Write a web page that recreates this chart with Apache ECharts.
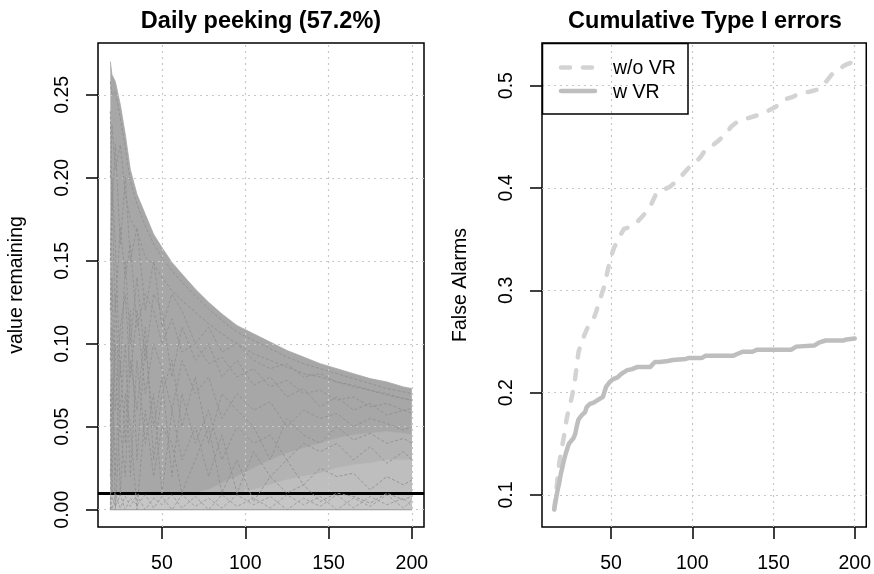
<!DOCTYPE html>
<html><head><meta charset="utf-8">
<script src="https://cdn.jsdelivr.net/npm/echarts@6/dist/echarts.min.js"></script>
<style>html,body{margin:0;padding:0;background:#fff}#c{width:874px;height:574px}</style>
</head><body><div id="c"></div>
<script>
// ---------- Left panel: Daily peeking ----------
const leftDays      = [19,20,22,25,28,31,35,40,45,50,56,62,70,78,86,95,105,115,125,135,145,155,165,175,185,195,200];
const upperEnvelope = [0.27,0.262,0.258,0.244,0.226,0.205,0.19,0.178,0.166,0.158,0.149,0.142,0.133,0.125,0.118,0.111,0.106,0.101,0.096,0.092,0.088,0.085,0.082,0.079,0.077,0.074,0.073];
const denseFloor    = [0.01,0.01,0.01,0.01,0.01,0.01,0.01,0.01,0.01,0.01,0.01,0.01,0.01,0.012,0.016,0.02,0.025,0.03,0.034,0.037,0.04,0.043,0.045,0.046,0.047,0.046,0.045];
const lightFloor    = [0.01,0.01,0.01,0.01,0.01,0.01,0.01,0.01,0.01,0.01,0.01,0.01,0.01,0.01,0.01,0.01,0.012,0.015,0.018,0.02,0.022,0.025,0.027,0.028,0.03,0.03,0.03];
const zeroBandTop   = [0.0095,0.0095,0.0095,0.0095,0.0095,0.0095,0.0095,0.0095,0.0095,0.0095,0.0095,0.0095,0.0095,0.0095,0.0095,0.0095,0.0095,0.0095,0.0095,0.0095,0.0095,0.0095,0.0095,0.0095,0.0095,0.0095,0.0095];
const floorValues   = [0,0,0,0,0,0,0,0,0,0,0,0,0,0,0,0,0,0,0,0,0,0,0,0,0,0,0];
const pathA = [0.258,0.25,0.252,0.236,0.218,0.198,0.184,0.171,0.16,0.152,0.144,0.137,0.129,0.121,0.114,0.107,0.102,0.097,0.092,0.088,0.085,0.082,0.079,0.076,0.073,0.071,0.07];
const pathB = [0.2,0.232,0.205,0.22,0.19,0.175,0.168,0.152,0.148,0.14,0.132,0.126,0.119,0.112,0.106,0.1,0.094,0.09,0.086,0.082,0.08,0.077,0.074,0.072,0.069,0.067,0.066];
const pathC = [0.15,0.19,0.12,0.17,0.14,0.16,0.11,0.13,0.12,0.1,0.115,0.095,0.1,0.088,0.092,0.08,0.085,0.074,0.078,0.07,0.072,0.066,0.068,0.062,0.064,0.06,0.061];
const pathD = [0.09,0.14,0.06,0.11,0.13,0.08,0.12,0.07,0.1,0.085,0.06,0.09,0.07,0.08,0.055,0.07,0.06,0.065,0.05,0.06,0.055,0.058,0.05,0.055,0.052,0.048,0.05];
const pathE = [0.05,0.11,0.02,0.09,0.04,0.12,0.03,0.1,0.05,0.08,0.02,0.07,0.04,0.06,0.03,0.05,0.04,0.045,0.03,0.04,0.035,0.04,0.03,0.038,0.028,0.035,0.03];
const pathF = [0.02,0.08,0,0.06,0.1,0.02,0.09,0.04,0.07,0.01,0.06,0.03,0.05,0.02,0.045,0.01,0.035,0.02,0.03,0.015,0.025,0.02,0.022,0.012,0.02,0.015,0.018];
const pathG = [0,0.05,0.1,0.01,0.07,0.05,0,0.06,0.02,0.05,0.04,0.01,0.03,0.05,0.01,0.03,0.005,0.02,0.01,0.015,0.005,0.01,0.008,0.004,0.01,0.006,0.008];
const pathH = [0.24,0.18,0.22,0.16,0.2,0.15,0.17,0.12,0.15,0.11,0.13,0.12,0.1,0.11,0.095,0.1,0.09,0.085,0.088,0.08,0.082,0.077,0.075,0.072,0.07,0.067,0.066];
const pathI = [0.12,0.2,0.16,0.08,0.15,0.1,0.14,0.09,0.13,0.12,0.08,0.11,0.09,0.1,0.08,0.09,0.075,0.08,0.068,0.073,0.062,0.068,0.06,0.064,0.057,0.06,0.058];
const pathJ = [0.07,0.01,0.13,0.05,0.02,0.09,0.06,0.11,0.03,0.07,0.09,0.05,0.08,0.04,0.07,0.06,0.05,0.03,0.055,0.045,0.04,0.05,0.042,0.046,0.04,0.043,0.04];
const zeroPath1 = [0,0.008,0.002,0.009,0,0.007,0.003,0.009,0.001,0.008,0,0.009,0.002,0.007,0.001,0.009,0.003,0.008,0,0.007,0.002,0.009,0.001,0.008,0.003,0.007,0.002];
const zeroPath2 = [0.005,0,0.009,0.001,0.008,0.002,0.009,0,0.007,0.003,0.009,0.001,0.008,0,0.009,0.002,0.007,0.001,0.009,0.003,0.008,0,0.007,0.002,0.009,0.001,0.006];
const threshold = 0.01;

// ---------- Right panel: Cumulative Type I errors ----------
const noVRDays = [15,16,17,18,19,20,21,22,23,24,25,26,27,28,29,30,32,34,36,38,40,42,44,46,48,50,52,55,58,62,65,68,72,75,78,82,86,90,94,98,102,105,108,112,116,120,124,128,132,136,140,145,150,154,158,162,167,172,177,180,183,186,190,194,197,200];
const noVRRate = [0.086,0.1,0.115,0.13,0.14,0.149,0.157,0.168,0.177,0.184,0.19,0.197,0.205,0.215,0.228,0.24,0.25,0.258,0.265,0.27,0.275,0.285,0.295,0.305,0.32,0.333,0.342,0.352,0.36,0.362,0.365,0.37,0.377,0.385,0.395,0.398,0.401,0.406,0.413,0.42,0.425,0.43,0.437,0.441,0.446,0.452,0.46,0.465,0.467,0.469,0.471,0.474,0.478,0.482,0.487,0.489,0.493,0.494,0.496,0.5,0.505,0.511,0.516,0.52,0.522,0.523];
const vrDays = [15,16,17,18,19,20,21,22,23,24,25,26,27,28,29,30,32,34,35,37,39,41,43,45,46,47,49,51,54,56,58,60,63,66,70,74,77,80,85,88,96,98,106,108,125,128,131,137,140,161,164,175,178,182,193,195,200];
const vrRate = [0.086,0.095,0.104,0.111,0.12,0.127,0.134,0.14,0.145,0.15,0.152,0.154,0.156,0.16,0.168,0.174,0.178,0.181,0.186,0.189,0.19,0.192,0.194,0.196,0.201,0.206,0.21,0.213,0.215,0.218,0.22,0.222,0.223,0.225,0.225,0.225,0.23,0.23,0.231,0.232,0.233,0.234,0.234,0.236,0.236,0.238,0.24,0.24,0.242,0.242,0.245,0.246,0.249,0.251,0.251,0.252,0.253];

// ---------- Ticks ----------
const xTicks = [50,100,150,200];
const leftYTicks = [0,0.05,0.1,0.15,0.2,0.25];
const rightYTicks = [0.1,0.2,0.3,0.4,0.5];

const FONT = '"Liberation Sans", Arial, Helvetica, sans-serif';
const zip = (xs, ys) => xs.map((x, i) => [x, ys[i]]);
const chart = echarts.init(document.getElementById('c'), null, {renderer: 'canvas'});

function xAxisCfg(gi, min, max) {
  return {
    gridIndex: gi, type: 'value', min: min, max: max,
    axisLine: {show: false, onZero: false},
    splitLine: {show: false},
    axisTick: {show: true, customValues: xTicks, length: 12, lineStyle: {color: '#000', width: 1.5}},
    axisLabel: {customValues: xTicks, fontSize: 19.5, color: '#000', margin: 27, fontFamily: FONT}
  };
}
function yAxisCfg(gi, min, max, ticks, digits, name) {
  return {
    gridIndex: gi, type: 'value', min: min, max: max,
    name: name, nameLocation: 'middle', nameRotate: 90, nameGap: 71,
    nameTextStyle: {fontSize: 19.5, color: '#000', fontFamily: FONT},
    axisLine: {show: false, onZero: false},
    splitLine: {show: false},
    axisTick: {show: true, customValues: ticks, length: 12, lineStyle: {color: '#000', width: 1.5}},
    axisLabel: {customValues: ticks, rotate: 90, fontSize: 19.5, color: '#000', margin: 25, fontFamily: FONT,
      formatter: v => Number(v).toFixed(digits)}
  };
}
const gridLineStyle = {type: [2, 4], color: '#c8c8c8', width: 1.2};
function gridSeries(xi, yTicks) {
  return {
    type: 'line', xAxisIndex: xi, yAxisIndex: xi, data: [], z: 1, silent: true,
    markLine: {silent: true, symbol: 'none', label: {show: false}, lineStyle: gridLineStyle, animation: false,
      data: xTicks.map(v => ({xAxis: v})).concat(yTicks.map(v => ({yAxis: v})))}
  };
}
function areaSeries(vals, color, z) {
  return {type: 'line', xAxisIndex: 0, yAxisIndex: 0, data: zip(leftDays, vals), showSymbol: false, symbol: 'none',
    lineStyle: {width: 0.8, color: color}, areaStyle: {color: color, opacity: 1}, z: z, silent: true, animation: false};
}
function pathSeries(vals, color, z) {
  return {type: 'line', xAxisIndex: 0, yAxisIndex: 0, data: zip(leftDays, vals), showSymbol: false, symbol: 'none',
    lineStyle: {width: 0.9, color: color, type: [3, 2]}, z: z, silent: true, animation: false};
}

const series = [
  gridSeries(0, leftYTicks),
  gridSeries(1, rightYTicks),
  areaSeries(upperEnvelope, '#a7a7a7', 2),
  areaSeries(denseFloor, '#b3b3b3', 3),
  areaSeries(lightFloor, '#bebebe', 3),
  areaSeries(zeroBandTop, '#c6c6c6', 4),
  {type: 'line', xAxisIndex: 0, yAxisIndex: 0, data: zip(leftDays, floorValues), showSymbol: false, symbol: 'none',
    lineStyle: {width: 1.2, color: '#9a9a9a'}, z: 5, silent: true, animation: false}
];
[pathA, pathB, pathC, pathD, pathE, pathF, pathG, pathH, pathI, pathJ].forEach(p => series.push(pathSeries(p, '#909090', 6)));
[zeroPath1, zeroPath2].forEach(p => series.push(pathSeries(p, '#9a9a9a', 6)));
series.push({
  type: 'line', xAxisIndex: 0, yAxisIndex: 0, data: [], z: 10, silent: true,
  markLine: {silent: true, symbol: 'none', label: {show: false}, animation: false,
    lineStyle: {color: '#000', width: 3, type: 'solid'}, data: [{yAxis: threshold}]}
});
series.push({
  name: 'w/o VR', type: 'line', xAxisIndex: 1, yAxisIndex: 1, data: zip(noVRDays, noVRRate),
  showSymbol: false, symbol: 'none', z: 5, animation: false,
  lineStyle: {color: '#d3d3d3', width: 4.5, type: [9, 13], cap: 'round', join: 'round'}
});
series.push({
  name: 'w VR', type: 'line', xAxisIndex: 1, yAxisIndex: 1, data: zip(vrDays, vrRate),
  showSymbol: false, symbol: 'none', z: 6, animation: false,
  lineStyle: {color: '#bebebe', width: 4.5, type: 'solid', cap: 'round', join: 'round'}
});

chart.setOption({
  backgroundColor: '#fff',
  animation: false,
  grid: [
    {left: 98, top: 43, width: 326, height: 486, show: true, borderColor: '#000', borderWidth: 1.5, backgroundColor: 'transparent'},
    {left: 542, top: 43, width: 326, height: 486, show: true, borderColor: '#000', borderWidth: 1.5, backgroundColor: 'transparent'}
  ],
  xAxis: [xAxisCfg(0, 11.6, 207.3), xAxisCfg(1, 7.5, 207.1)],
  yAxis: [yAxisCfg(0, -0.0104, 0.2812, leftYTicks, 2, 'value remaining'),
          yAxisCfg(1, 0.0688, 0.5416, rightYTicks, 1, 'False Alarms')],
  series: series,
  graphic: [
    {type: 'text', x: 261, y: 22, style: {text: 'Daily peeking (57.2%)', align: 'center', verticalAlign: 'middle', font: 'bold 23.5px ' + FONT, fill: '#000'}},
    {type: 'text', x: 705, y: 22, style: {text: 'Cumulative Type I errors', align: 'center', verticalAlign: 'middle', font: 'bold 23.5px ' + FONT, fill: '#000'}},
    {type: 'rect', shape: {x: 542.5, y: 43.5, width: 145.5, height: 70.5}, style: {fill: 'none', stroke: '#000', lineWidth: 1.5}, z: 20},
    {type: 'line', shape: {x1: 561, y1: 67.5, x2: 595, y2: 67.5}, style: {stroke: '#d3d3d3', lineWidth: 4.5, lineDash: [9, 13], lineCap: 'round'}, z: 20},
    {type: 'line', shape: {x1: 561, y1: 91, x2: 595, y2: 91}, style: {stroke: '#bebebe', lineWidth: 4.5, lineCap: 'round'}, z: 20},
    {type: 'text', x: 613, y: 69, style: {text: 'w/o VR', verticalAlign: 'middle', font: '19.5px ' + FONT, fill: '#000'}, z: 20},
    {type: 'text', x: 613, y: 93, style: {text: 'w VR', verticalAlign: 'middle', font: '19.5px ' + FONT, fill: '#000'}, z: 20}
  ]
});
</script></body></html>
